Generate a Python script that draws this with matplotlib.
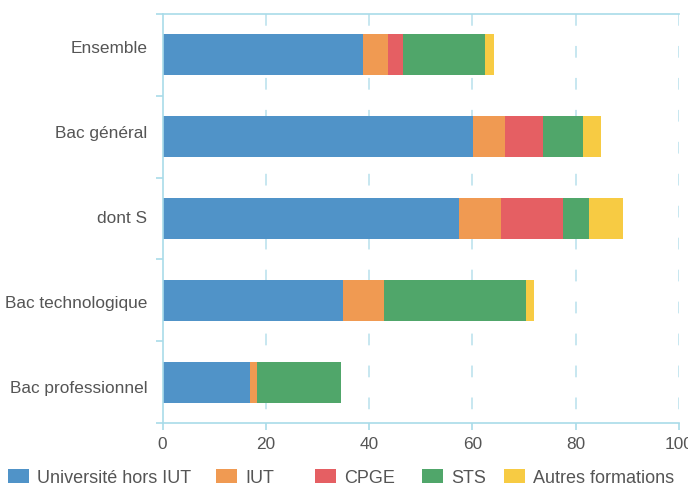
import matplotlib
matplotlib.use("Agg")
import matplotlib.pyplot as plt
import numpy as np

categories = ["Ensemble", "Bac général", "dont S", "Bac technologique", "Bac professionnel"]
series_names = ["Université hors IUT", "IUT", "CPGE", "STS", "Autres formations"]
universite = [38.8, 60.2, 57.4, 35.0, 17.0]
iut = [4.9, 6.1, 8.2, 7.9, 1.3]
cpge = [2.9, 7.3, 12.0, 0.0, 0.0]
sts = [15.9, 7.9, 4.9, 27.5, 16.3]
autres = [1.7, 3.4, 6.7, 1.6, 0.0]
xticks = [0, 20, 40, 60, 80, 100]

colors = ["#5093c8", "#f09a52", "#e55f63", "#50a66a", "#f7cb43"]
series = [universite, iut, cpge, sts, autres]
legend_x_px = [8, 216, 315, 422, 504]

plt.rcParams['font.family'] = ['Liberation Sans', 'DejaVu Sans']
fs_tick = 12.4
fs_leg = 13

fig = plt.figure(figsize=(6.88, 4.96), dpi=100)
ax = fig.add_axes([162.5/688, 1-423/496, (679-162.5)/688, (423-14)/496])

axis_col = "#a9dbe9"
grid_col = "#c3e5ef"
text_col = "#555555"

n = len(categories)
y = np.arange(n)
left = np.zeros(n)
handles = []
for name, vals, c in zip(series_names, series, colors):
    h = ax.barh(y, vals, left=left, height=0.5, color=c, label=name, zorder=2)
    handles.append(h)
    left += np.array(vals)

ax.set_ylim(n-0.5, -0.5)
ax.set_xlim(0, 100)
ax.set_xticks(xticks)
ax.set_xticklabels([str(t) for t in xticks])
label_pos = -0.5 - 10/81.8 + (y + 0.5) * (426/409)
ax.set_yticks(label_pos)
ax.set_yticklabels(categories)
ax.set_yticks(np.arange(-0.5, n), minor=True)
ax.tick_params(axis='y', which='major', length=0, pad=11, labelsize=fs_tick, labelcolor=text_col)
ax.tick_params(axis='y', which='minor', length=5, width=1.2, color=axis_col, direction='out')
ax.tick_params(axis='x', which='major', length=5, width=1.2, color=axis_col, pad=5, labelsize=fs_tick, labelcolor=text_col)

ax.spines['right'].set_visible(False)
for s in ['left', 'bottom', 'top']:
    ax.spines[s].set_color(axis_col)
    ax.spines[s].set_linewidth(1.2)

for t in xticks[1:]:
    ax.plot([t, t], [-0.5, n-0.5], color=grid_col, lw=1.3, linestyle=(0, (6.5, 11.2)), zorder=1)

for h, name, xp in zip(handles, series_names, legend_x_px):
    leg = fig.legend([h], [name], loc='center left', bbox_to_anchor=(xp/688, 1-478/496),
                     frameon=False, fontsize=fs_leg, handlelength=1.15, handleheight=0.8,
                     handletextpad=0.45, borderaxespad=0, borderpad=0)
    for txt in leg.get_texts():
        txt.set_color(text_col)

fig.savefig("out.png", dpi=100)
